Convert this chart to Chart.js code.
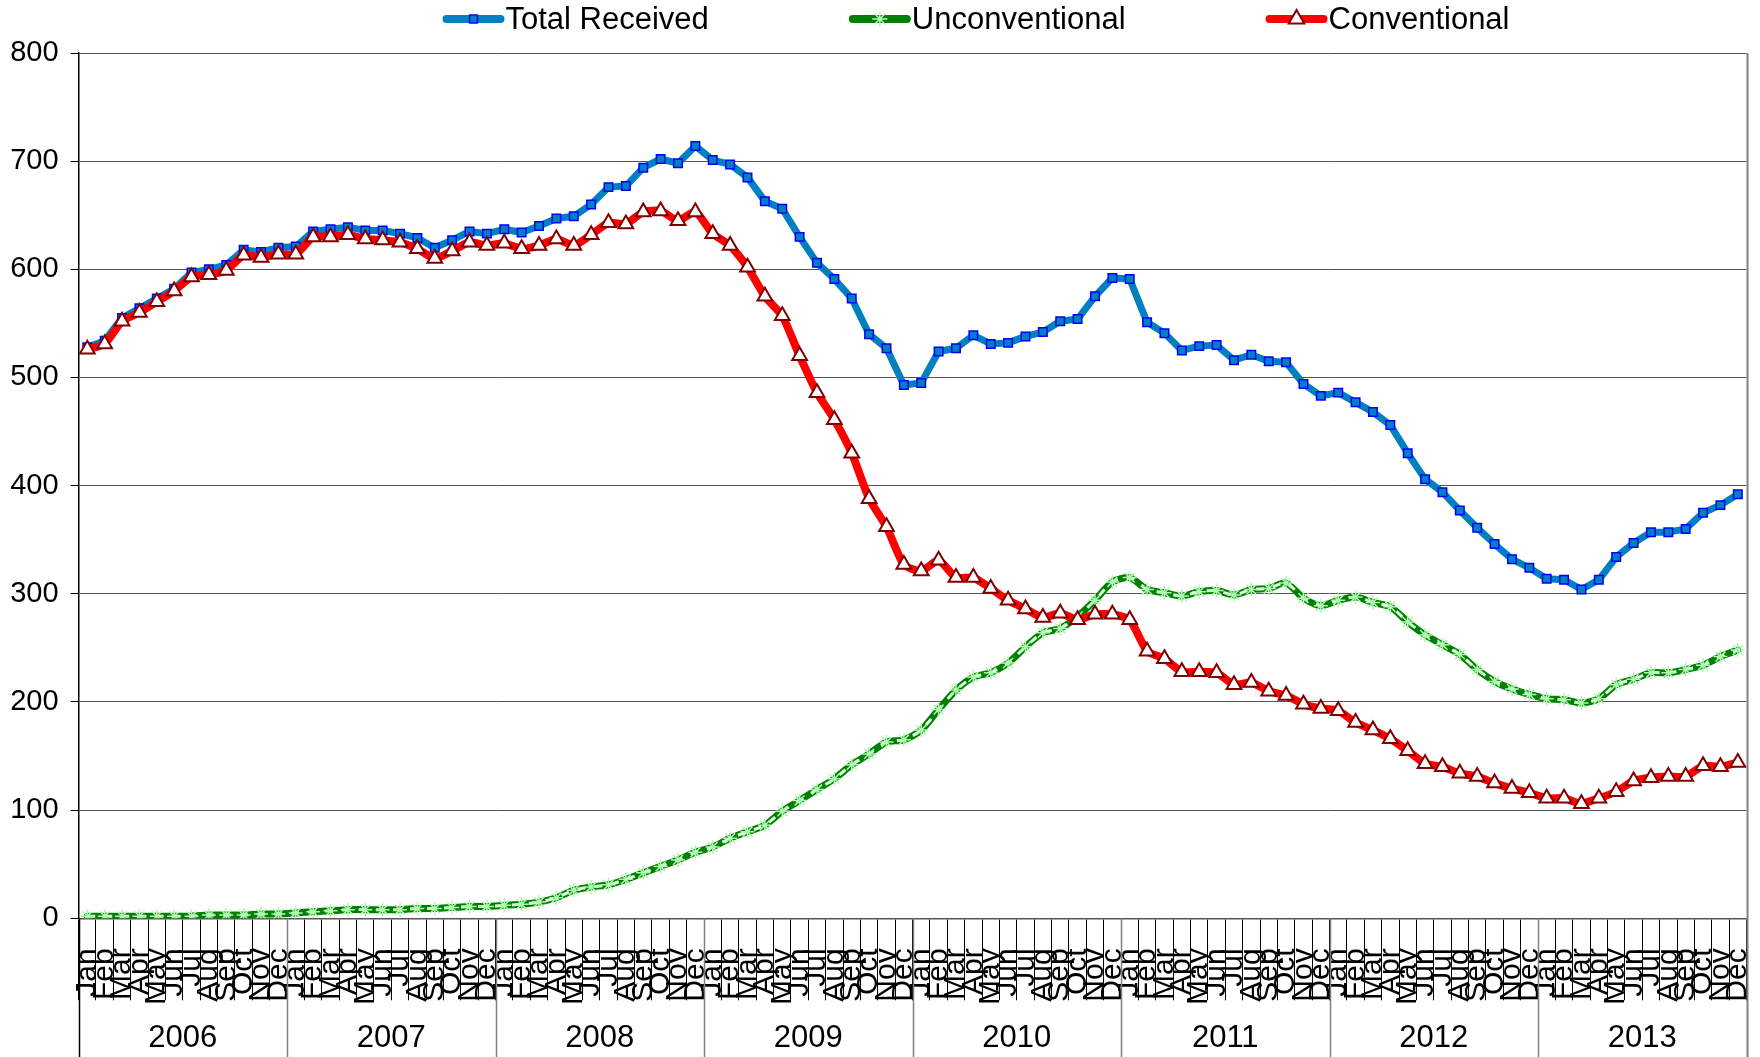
<!DOCTYPE html>
<html>
<head>
<meta charset="utf-8">
<script src="https://cdn.jsdelivr.net/npm/chart.js@4.4.0/dist/chart.umd.min.js"></script>
<style>
  html, body { margin: 0; padding: 0; background: #fff; }
  #wrap { width: 1760px; height: 1057px; }
</style>
</head>
<body>
<div id="wrap"><canvas id="chart" width="1760" height="1057"></canvas></div>
<script>
// data, one value per month, Jan 2006 .. Dec 2013
const years = ['2006', '2007', '2008', '2009', '2010', '2011', '2012', '2013'];
const monthNames = ['Jan', 'Feb', 'Mar', 'Apr', 'May', 'Jun', 'Jul', 'Aug', 'Sep', 'Oct', 'Nov', 'Dec'];
const yTicks = [0, 100, 200, 300, 400, 500, 600, 700, 800];

const totalReceived = [
  528, 534, 555, 564, 573, 582, 597, 600, 604, 618, 616, 620,
  621, 635, 637, 639, 636, 636, 633, 629, 620, 627, 635, 633,
  637, 634, 640, 647, 649, 660, 676, 677, 694, 702, 698, 714,
  701, 697, 685, 663, 656, 630, 606, 591, 573, 540, 527, 493,
  495, 524, 527, 539, 531, 532, 538, 542, 552, 554, 575, 592,
  591, 551, 541, 525, 529, 530, 516, 521, 515, 514, 494, 483,
  486, 477, 468, 456, 430, 406, 394, 377, 361, 346, 332, 324,
  314, 313, 304, 313, 334, 347, 357, 357, 360, 375, 382, 392
];
const unconventional = [
  2, 2, 2, 2, 2, 2, 2, 3, 3, 3, 4, 4,
  5, 6, 7, 8, 8, 8, 8, 9, 9, 10, 11, 11,
  12, 13, 15, 19, 26, 29, 31, 36, 42, 48, 54, 61,
  66, 74, 80, 86, 99, 109, 119, 129, 142, 152, 163, 165,
  174, 193, 211, 223, 227, 236, 251, 264, 268, 279, 294, 311,
  315, 304, 301, 298, 302, 303, 299, 304, 305, 310, 296, 289,
  294, 297, 292, 288, 274, 262, 253, 244, 230, 219, 212, 207,
  203, 202, 199, 203, 216, 221, 227, 227, 230, 234, 242, 248
];
const conventional = [
  526, 531, 552, 560, 570, 580, 593, 595, 599, 613, 611, 614,
  614, 630, 630, 632, 628, 627, 625, 619, 610, 617, 625, 622,
  624, 619, 622, 628, 622, 632, 643, 642, 653, 654, 645, 653,
  633, 622, 602, 575, 557, 520, 486, 461, 430, 388, 362, 327,
  321, 331, 315, 315, 305, 294, 286, 278, 282, 276, 281, 281,
  276, 247, 240, 228, 228, 227, 216, 218, 210, 206, 198, 194,
  192, 181, 174, 166, 155, 143, 140, 134, 131, 125, 120, 116,
  111, 111, 106, 111, 117, 127, 130, 131, 131, 141, 140, 144
];

const labels = [];
years.forEach(() => monthNames.forEach(m => labels.push(m)));

const FONT = '"Liberation Sans", Arial, sans-serif';
Chart.defaults.font.family = FONT;
Chart.defaults.color = '#000';

// legend entries (line sample + marker + text), drawn on top of the canvas
const legendItems = [
  { text: 'Total Received', line: '#0080C0', width: 8,
    point: { pointStyle: 'rect', radius: 5.5, fill: '#0080C0', stroke: '#0000FF', borderWidth: 1.5 } },
  { text: 'Unconventional', line: '#008000', width: 8,
    point: { pointStyle: 'star', radius: 7, fill: '#C0FFC0', stroke: '#B8F8B8', borderWidth: 1.5 } },
  { text: 'Conventional', line: '#FF0000', width: 8,
    point: { pointStyle: 'triangle', radius: 9, fill: '#FFFFFF', stroke: '#800000', borderWidth: 2 } }
];

const topLegend = {
  id: 'topLegend',
  afterDraw(chart) {
    const ctx = chart.ctx;
    ctx.save();
    ctx.font = '31px ' + FONT;
    ctx.textBaseline = 'middle';
    const sample = 62, gap = 140, y = 19;
    const widths = legendItems.map(it => sample + 1 + ctx.measureText(it.text).width);
    const total = widths.reduce((a, b) => a + b, 0) + gap * (legendItems.length - 1);
    let x = 976 - total / 2;
    legendItems.forEach((it, i) => {
      ctx.strokeStyle = it.line;
      ctx.lineWidth = it.width;
      ctx.lineCap = 'round';
      ctx.beginPath();
      ctx.moveTo(x + 4, y);
      ctx.lineTo(x + sample - 4, y);
      ctx.stroke();
      ctx.fillStyle = it.point.fill;
      ctx.strokeStyle = it.point.stroke;
      ctx.lineWidth = it.point.borderWidth;
      Chart.helpers.drawPoint(ctx, {
        pointStyle: it.point.pointStyle, radius: it.point.radius,
        borderWidth: it.point.borderWidth, rotation: 0
      }, x + sample / 2, y);
      ctx.fillStyle = '#000';
      ctx.fillText(it.text, x + sample + 1, y + 1);
      x += widths[i] + gap;
    });
    ctx.restore();
  }
};

// year groups under the month labels
const yearAxis = {
  id: 'yearAxis',
  afterDraw(chart) {
    const { ctx, chartArea } = chart;
    const xs = chart.scales.x;
    const bottom = chart.height;
    ctx.save();
    years.forEach((yr, k) => {
      const left = xs.getPixelForValue(k * 12 - 0.5);
      ctx.strokeStyle = k === 0 ? '#000' : '#808080';
      ctx.lineWidth = 1.5;
      ctx.beginPath();
      ctx.moveTo(Math.round(left) + 0.5, chartArea.bottom);
      ctx.lineTo(Math.round(left) + 0.5, bottom);
      ctx.stroke();
      ctx.fillStyle = '#000';
      ctx.font = '31px ' + FONT;
      ctx.textAlign = 'center';
      ctx.textBaseline = 'middle';
      ctx.fillText(yr, xs.getPixelForValue(k * 12 + 5.5), 1038);
    });
    // right border of the plot, running down to the bottom
    const right = Math.round(xs.getPixelForValue(years.length * 12 - 0.5)) + 0.5;
    ctx.strokeStyle = '#808080';
    ctx.lineWidth = 2;
    ctx.beginPath();
    ctx.moveTo(right, chartArea.top);
    ctx.lineTo(right, bottom);
    ctx.stroke();
    ctx.restore();
  }
};

new Chart(document.getElementById('chart'), {
  type: 'line',
  data: {
    labels: labels,
    datasets: [
      {
        label: 'Total Received',
        data: totalReceived,
        borderColor: '#0080C0',
        borderWidth: 7,
        borderJoinStyle: 'round',
        borderCapStyle: 'round',
        tension: 0,
        pointStyle: 'rect',
        pointRadius: 6,
        pointBackgroundColor: '#0080C0',
        pointBorderColor: '#0000FF',
        pointBorderWidth: 1.5,
        order: 4
      },
      {
        label: 'Unconventional',
        data: unconventional,
        borderColor: '#008000',
        borderWidth: 7,
        borderJoinStyle: 'round',
        borderCapStyle: 'round',
        tension: 0.25,
        pointRadius: 0,
        order: 3
      },
      {
        // pale dashes inside the green line, plus its star markers
        label: '',
        data: unconventional,
        borderColor: '#E0FFE0',
        borderWidth: 3,
        borderDash: [8, 9],
        tension: 0.25,
        pointStyle: 'star',
        pointRadius: 7,
        pointBorderColor: '#B0F8B0',
        pointBackgroundColor: '#B0F8B0',
        pointBorderWidth: 1.5,
        order: 2
      },
      {
        label: 'Conventional',
        data: conventional,
        borderColor: '#FF0000',
        borderWidth: 8,
        borderJoinStyle: 'round',
        borderCapStyle: 'round',
        tension: 0.2,
        pointStyle: 'triangle',
        pointRadius: 8.5,
        pointBackgroundColor: '#FFFFFF',
        pointBorderColor: '#800000',
        pointBorderWidth: 2,
        order: 1
      }
    ]
  },
  options: {
    responsive: false,
    animation: false,
    devicePixelRatio: 1,
    layout: { padding: { top: 53, right: 13.5, bottom: 0, left: 0 } },
    plugins: {
      legend: { display: false },
      tooltip: { enabled: false }
    },
    scales: {
      x: {
        type: 'category',
        offset: true,
        grid: {
          offset: true,
          drawOnChartArea: false,
          drawTicks: true,
          tickLength: 82,
          color: '#000',
          lineWidth: 1
        },
        border: { display: true, color: '#555', width: 1.5 },
        ticks: {
          autoSkip: false,
          maxRotation: 90,
          minRotation: 90,
          padding: -52,
          font: { size: 30 },
          color: '#000'
        },
        afterFit(scale) {
          scale.height = 1057 - 918.3;
          scale.paddingLeft = 0;
          scale.paddingRight = 0;
        }
      },
      y: {
        min: 0,
        max: 800,
        afterBuildTicks(scale) {
          scale.ticks = yTicks.map(v => ({ value: v }));
        },
        grid: {
          color: '#555',
          lineWidth: 1,
          drawTicks: true,
          tickLength: 8,
          tickColor: '#000'
        },
        border: { display: true, color: '#000', width: 1.5 },
        ticks: {
          padding: 12,
          font: { size: 29 },
          color: '#000'
        },
        afterFit(scale) {
          scale.width = 78.6;
          scale.paddingTop = 0;
          scale.paddingBottom = 0;
        }
      }
    }
  },
  plugins: [topLegend, yearAxis]
});
</script>
</body>
</html>
